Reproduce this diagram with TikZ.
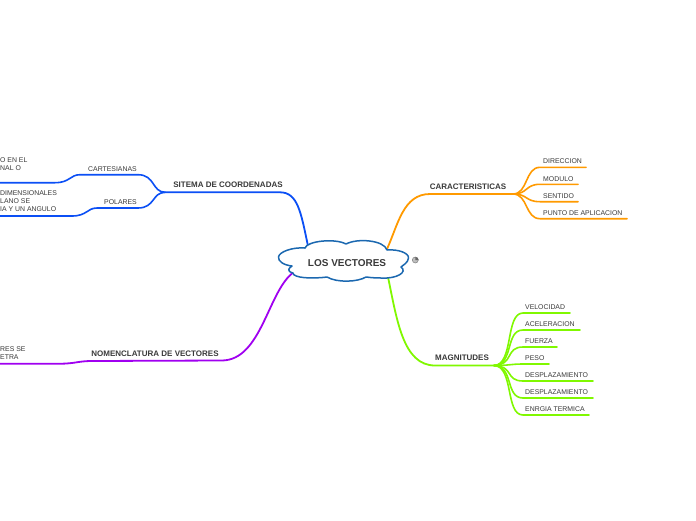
\documentclass[tikz,border=0pt]{standalone}
\usepackage{fontspec}
\setmainfont{Liberation Sans}
\definecolor{cblue}{HTML}{0B4FF5}
\definecolor{corange}{HTML}{FF9A00}
\definecolor{cgreen}{HTML}{80F800}
\definecolor{cpurple}{HTML}{A000F0}
\definecolor{ccloud}{HTML}{1B68B0}
\definecolor{ctext}{HTML}{3A3A3A}
\tikzset{
 conn/.style={line width=1.8pt,line cap=round,line join=round},
 subconn/.style={line width=1.6pt,line cap=round,line join=round},
 main/.style={inner sep=0pt,text=ctext,font=\fontsize{8}{9}\selectfont\bfseries},
 leaf/.style={inner sep=0pt,text=ctext,anchor=west,font=\fontsize{6.9}{8}\selectfont},
 multi/.style={leaf,align=left,font=\fontsize{6.9}{8}\selectfont},
}
\begin{document}
\begin{tikzpicture}[x=1pt,y=-1pt]
\useasboundingbox (0,0) rectangle (696,520);
\clip (0,0) rectangle (696,520);
\fill[white] (0,0) rectangle (696,520);
% anchor points
\coordinate (rootTL) at (308,246);
\coordinate (rootTR) at (387,249);
\coordinate (rootBR) at (388,277);
\coordinate (rootBL) at (294,272);
\coordinate (jBlue) at (165,192.3);
\coordinate (jOrange) at (513,194);
\coordinate (jGreen) at (494,365.5);
\coordinate (cartEnd) at (0,182.7);
\coordinate (polEnd) at (0,216);
\coordinate (nomEnd) at (0,363.7);
\coordinate (e1) at (586,167.3);
\coordinate (e2) at (578,184.3);
\coordinate (e3) at (578,201.7);
\coordinate (e4) at (627,218.7);
\coordinate (g1) at (570,313);
\coordinate (g2) at (580,330);
\coordinate (g3) at (557,347);
\coordinate (g4) at (549,364);
\coordinate (g5) at (593,381);
\coordinate (g6) at (593,398);
\coordinate (g7) at (589,415);
% blue branch
\draw[conn,cblue] (rootTL) .. controls (301,213) and (298,192.3) .. (280,192.3) -- (jBlue);
\draw[subconn,cblue] (jBlue) .. controls (152,192) and (155,174.7) .. (138,174.7) -- (80,174.7) .. controls (70,174.7) and (70,182.7) .. (55,182.7) -- (cartEnd);
\draw[subconn,cblue] (jBlue) .. controls (152,192.6) and (155,208) .. (138,208) -- (97,208) .. controls (87,208) and (87,216) .. (72,216) -- (polEnd);
% purple branch
\draw[conn,cpurple] (rootBL) .. controls (268,290) and (262,360) .. (222,360.5) -- (92,361) .. controls (78,361) and (75,363.7) .. (60,363.7) -- (nomEnd);
% orange branch
\draw[conn,corange] (rootTR) .. controls (398,225) and (403,194) .. (430,194) -- (jOrange);
\draw[subconn,corange] (jOrange) .. controls (528,194) and (525,167.3) .. (540,167.3) -- (e1);
\draw[subconn,corange] (jOrange) .. controls (528,194) and (525,184.3) .. (540,184.3) -- (e2);
\draw[subconn,corange] (jOrange) .. controls (528,194) and (525,201.7) .. (540,201.7) -- (e3);
\draw[subconn,corange] (jOrange) .. controls (528,194) and (525,218.7) .. (540,218.7) -- (e4);
% green branch
\draw[conn,cgreen] (rootBR) .. controls (397,320) and (403,365.5) .. (435,365.5) -- (jGreen);
\draw[subconn,cgreen] (jGreen) .. controls (514,365) and (505,313) .. (523,313) -- (g1);
\draw[subconn,cgreen] (jGreen) .. controls (514,365) and (505,330) .. (523,330) -- (g2);
\draw[subconn,cgreen] (jGreen) .. controls (514,365) and (505,347) .. (523,347) -- (g3);
\draw[subconn,cgreen] (jGreen) .. controls (510,365.5) and (510,364) .. (523,364) -- (g4);
\draw[subconn,cgreen] (jGreen) .. controls (514,366) and (505,381) .. (523,381) -- (g5);
\draw[subconn,cgreen] (jGreen) .. controls (514,366) and (505,398) .. (523,398) -- (g6);
\draw[subconn,cgreen] (jGreen) .. controls (514,366) and (505,415) .. (523,415) -- (g7);
% cloud
\draw[ccloud,line width=1.5pt,fill=white,line join=round]
 (278.5,257) .. controls (279,252) and (292,247) .. (305,248)
 .. controls (307,241) and (335,238) .. (346,244)
 .. controls (357,238) and (384,240) .. (387,250)
 .. controls (398,249) and (409,253) .. (408.5,258)
 .. controls (408,263) and (403,265) .. (401,267)
 .. controls (408,272) and (397,279) .. (381,278)
 .. controls (372,278) and (367,277) .. (366,277)
 .. controls (358,282) and (337,283) .. (327,277)
 .. controls (312,279) and (293,278) .. (293,273)
 .. controls (286,271) and (289,268) .. (292,266)
 .. controls (283,265) and (278,261) .. (278.5,257) -- cycle;
\node[inner sep=0pt,text=ctext,font=\fontsize{10}{11}\selectfont\bfseries] (root) at (347,263) {LOS VECTORES};
% globe icon
\node[circle,fill=gray!50,draw=black!50,line width=.5pt,minimum size=6pt,inner sep=0pt] (globe) at (415.3,260) {};
\fill[black!60] (globe.north) -- (globe.center) -- (globe.east) arc (0:90:3pt) -- cycle;
% main labels
\node[main] (sitema) at (228,185) {SITEMA DE COORDENADAS};
\node[main] (carac) at (468,187) {CARACTERISTICAS};
\node[main] (magn) at (462,358) {MAGNITUDES};
\node[main] (nomen) at (155,354) {NOMENCLATURA DE VECTORES};
% leaves
\node[leaf,anchor=center] (cart) at (112.5,169) {CARTESIANAS};
\node[leaf,anchor=center] (pol) at (120.5,202) {POLARES};
\node[multi,anchor=north west] (cartT) at (0,157) {O EN EL\\NAL O};
\node[multi,anchor=north west] (polT) at (0,190.7) {DIMENSIONALES\\LANO SE\\IA Y UN ANGULO};
\node[multi,anchor=north west] (nomT) at (0,346.5) {RES SE\\ETRA};
\node[leaf] (d1) at (543,161.5) {DIRECCION};
\node[leaf] (d2) at (543,179) {MODULO};
\node[leaf] (d3) at (543,196) {SENTIDO};
\node[leaf] (d4) at (543,213) {PUNTO DE APLICACION};
\node[leaf] (m1) at (525,307) {VELOCIDAD};
\node[leaf] (m2) at (525,324) {ACELERACION};
\node[leaf] (m3) at (525,341) {FUERZA};
\node[leaf] (m4) at (525,358) {PESO};
\node[leaf] (m5) at (525,375) {DESPLAZAMIENTO};
\node[leaf] (m6) at (525,392) {DESPLAZAMIENTO};
\node[leaf] (m7) at (525,409) {ENRGIA TERMICA};
\end{tikzpicture}
\end{document}
